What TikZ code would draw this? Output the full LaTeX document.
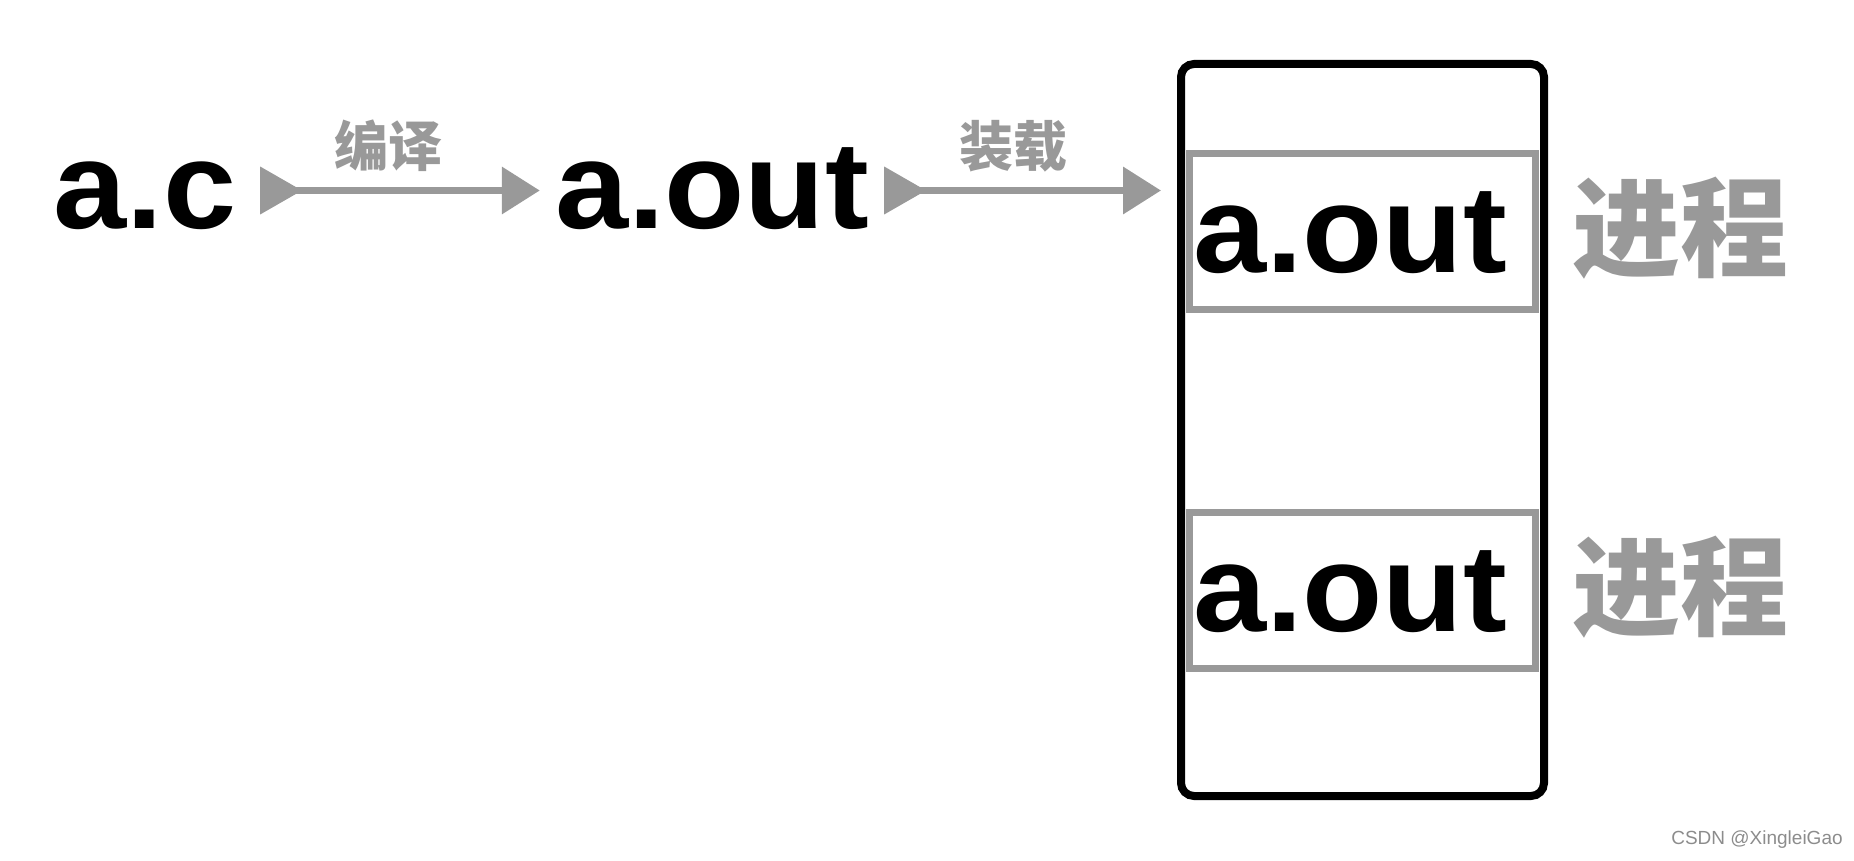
\documentclass[tikz,border=0pt]{standalone}
\usepackage{fontspec}
\setmainfont{Liberation Sans}
\newfontfamily\bigfont{Liberation Sans}[FakeStretch=1.06]
\newfontfamily\cjk{Noto Sans CJK SC}
\usetikzlibrary{arrows.meta}
\definecolor{lgray}{RGB}{153,153,153}
\begin{document}
\begin{tikzpicture}[x=1pt,y=1pt,
  bigtxt/.style={inner sep=0pt, font=\bigfont\bfseries\fontsize{124}{124}\selectfont, text height=77pt, text depth=0pt},
  boxtxt/.style={inner sep=0pt, font=\bigfont\bfseries\fontsize{124}{124}\selectfont, text height=81pt, text depth=0pt},
  lbl/.style={text=lgray, font=\cjk\bfseries\fontsize{54}{54}\selectfont, inner sep=0pt},
  proc/.style={text=lgray, font=\cjk\bfseries\fontsize{108}{108}\selectfont, inner sep=0pt},
  flow/.style={draw=lgray, line width=7pt, {Triangle[reversed,length=42pt,width=46pt]}-{Triangle[length=38pt,width=46pt]}},
  membox/.style={draw=black, line width=8pt, rounded corners=13pt, minimum width=363pt, minimum height=732pt, inner sep=0pt},
  procbox/.style={draw=lgray, line width=7pt, minimum width=346pt, minimum height=156pt, inner sep=0pt},
  wmark/.style={text=black!45, font=\fontsize{19}{19}\selectfont, inner sep=0pt}
]
\useasboundingbox (0,0) rectangle (1854,-861);
\node[membox] (mem) at (1362.5,-430) {};
\node[procbox] (pb1) at (1362.5,-231.5) {};
\node[procbox] (pb2) at (1362.5,-590.5) {};
\node[boxtxt] (t1) at (1350,-231.5) {a.out};
\node[boxtxt] (t2) at (1350,-590.5) {a.out};
\node[proc] (p1) at (1680,-228) {进程};
\node[proc] (p2) at (1680,-587) {进程};
\node[bigtxt, minimum width=230pt] (ac) at (145,-190.5) {a.c};
\node[bigtxt, minimum width=344pt] (aout) at (712,-190.5) {a.out};
\node[lbl] (l1) at (388,-146) {编译};
\node[lbl] (l2) at (1013,-146) {装载};
\draw[flow] (ac.east) -- (aout.west);
\draw[flow, shorten >=16pt] (aout.east) -- (aout.east -| mem.west);
\node[wmark] (wm) at (1757,-840) {CSDN @XingleiGao};
\end{tikzpicture}
\end{document}
